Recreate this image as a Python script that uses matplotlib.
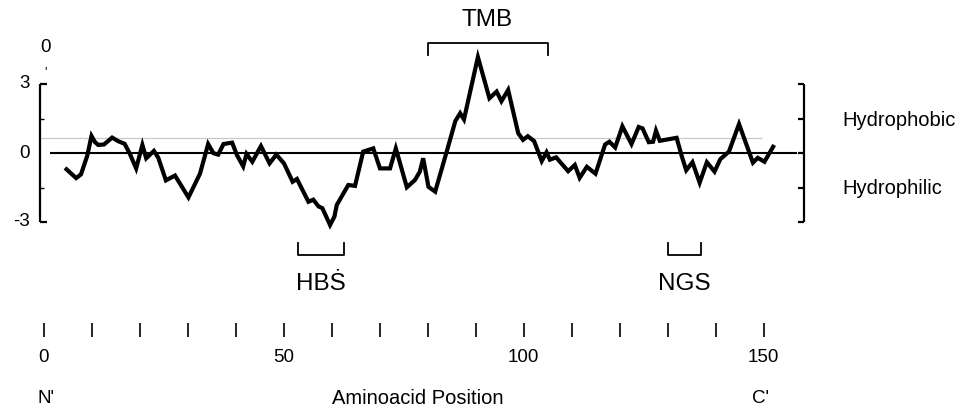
import matplotlib

matplotlib.use("Agg")
import matplotlib.pyplot as plt
import numpy as np

plt.rcParams["font.family"] = ["Liberation Sans", "DejaVu Sans"]

# Hydropathy profile (residue position, score).
POSITIONS = [
    4.8, 6.8, 7.8, 9.1, 10.0, 10.7, 11.4, 12.6, 14.3, 15.6, 16.9, 18.0, 19.3, 20.6, 21.4,
    23.0, 23.9, 25.5, 27.4, 30.2, 32.6, 34.3, 35.4, 36.4, 37.5, 39.3, 40.3, 41.6, 42.3,
    43.5, 45.3, 47.1, 48.5, 50.1, 51.9, 52.8, 55.2, 56.2, 57.3, 58.1, 59.7, 60.6, 61.1,
    63.5, 64.9, 66.6, 68.7, 70.1, 72.2, 73.4, 75.7, 77.4, 78.4, 79.1, 80.2, 81.6, 84.0,
    85.8, 86.8, 87.6, 90.5, 92.9, 94.4, 95.4, 96.8, 98.9, 99.9, 100.9, 102.2, 103.8,
    104.8, 105.5, 106.8, 109.3, 110.7, 111.7, 113.2, 115.0, 117.0, 117.9, 119.1, 120.6,
    122.5, 124.0, 124.8, 126.1, 127.0, 127.6, 128.4, 131.9, 133.0, 133.9, 135.2, 136.7,
    138.2, 139.8, 141.0, 142.8, 144.9, 147.8, 148.8, 150.2, 152.0,
]
SCORES = [
    -0.71, -1.09, -0.93, -0.13, 0.74, 0.48, 0.35, 0.37, 0.67, 0.51, 0.40, -0.04, -0.67, 0.35, -0.23,
    0.09, -0.20, -1.19, -0.98, -1.93, -0.90, 0.39, -0.01, -0.07, 0.39, 0.45, -0.09, -0.58, -0.04,
    -0.38, 0.30, -0.45, -0.07, -0.45, -1.25, -1.13, -2.12, -2.03, -2.32, -2.40, -3.13, -2.77, -2.26,
    -1.39, -1.43, 0.06, 0.20, -0.67, -0.67, 0.20, -1.49, -1.17, -0.81, -0.23, -1.47, -1.68, 0.06,
    1.39, 1.73, 1.46, 4.17, 2.38, 2.67, 2.25, 2.74, 0.86, 0.57, 0.73, 0.52, -0.35,
    0.03, -0.29, -0.19, -0.79, -0.52, -1.08, -0.60, -0.90, 0.37, 0.49, 0.24, 1.16,
    0.39, 1.13, 1.07, 0.47, 0.49, 0.97, 0.53, 0.66, -0.16, -0.75, -0.40, -1.29,
    -0.40, -0.81, -0.27, 0.06, 1.26, -0.42, -0.21, -0.38, 0.27,
]
THRESHOLD = 0.65

# Annotated regions: (label, first residue, last residue)
TOP_REGIONS = [("TMB", 80, 105)]
BOTTOM_REGIONS = [("HBṠ", 53, 62.5), ("NGS", 130, 137)]

X_TICKS = list(range(0, 151, 10))
X_TICK_LABELS = [0, 50, 100, 150]
Y_TICKS_MAJOR = [-3, 3]
Y_TICKS_MINOR = [-1.5, 1.5]
RIGHT_TICKS = [-3, -1.5, 0, 1.5, 3]

# pixel <-> data mapping of the scanned figure (963 x 412 px)
W_PX, H_PX = 963, 412
X0_PX, PX_PER_RES = 43.5, 4.8
Y0_PX, PX_PER_UNIT = 153.0, 23.0

SMALL_FONT = 13.5
REGION_FONT = 17.5


def to_data(px, py):
    return (px - X0_PX) / PX_PER_RES, (Y0_PX - py) / PX_PER_UNIT


def main() -> None:
    fig = plt.figure(figsize=(W_PX / 100, H_PX / 100), dpi=100)
    ax = fig.add_axes([0, 0, 1, 1])
    ax.set_xlim(-X0_PX / PX_PER_RES, (W_PX - X0_PX) / PX_PER_RES)
    ax.set_ylim((Y0_PX - H_PX) / PX_PER_UNIT, Y0_PX / PX_PER_UNIT)
    ax.axis("off")

    dx = 1 / PX_PER_RES  # one pixel in x data units
    dy = 1 / PX_PER_UNIT

    # reference lines
    ax.hlines(THRESHOLD, -0.7, 149.7, color="#c8c8c8", lw=0.9)
    ax.hlines(0, 1.3, 157.0, color="black", lw=1.5)

    # profile
    ax.plot(POSITIONS, SCORES, color="black", lw=3.0, solid_joinstyle="miter")

    # left scale bracket
    left_x = to_data(40, 0)[0]
    ax.vlines(left_x, -3, 3, color="black", lw=1.6)
    for y in Y_TICKS_MAJOR:
        ax.hlines(y, left_x, left_x + 6.5 * dx, color="black", lw=1.6)
    for y in Y_TICKS_MINOR:
        ax.hlines(y, left_x, left_x + 4 * dx, color="black", lw=1.0)
    for y, lab in [(3, "3"), (0, "0"), (-3, "-3")]:
        ax.text(left_x - 10 * dx, y, lab, ha="right", va="center", fontsize=SMALL_FONT)
    tx, ty = to_data(45, 48)
    ax.text(tx, ty, "0", ha="center", va="center", fontsize=SMALL_FONT)
    tx, ty = to_data(45, 72)
    ax.text(tx, ty, "'", ha="center", va="center", fontsize=9)

    # right scale bracket
    right_x = to_data(804, 0)[0]
    ax.vlines(right_x, -3, 3, color="black", lw=1.6)
    for y in RIGHT_TICKS:
        ax.hlines(y, right_x - 6 * dx, right_x, color="black", lw=1.6)
    tx, ty = to_data(842, 120)
    ax.text(tx, ty, "Hydrophobic", ha="left", va="center", fontsize=14.5)
    tx, ty = to_data(842, 188)
    ax.text(tx, ty, "Hydrophilic", ha="left", va="center", fontsize=14.5)

    # region brackets
    top_y, top_drop = to_data(0, 42.7)[1], 12 * dy
    for label, start, end in TOP_REGIONS:
        ax.plot([start, start, end, end], [top_y - top_drop, top_y, top_y, top_y - top_drop],
                color="black", lw=1.3)
        ax.text((start + end) / 2, to_data(0, 20)[1], label, ha="center", va="center",
                fontsize=REGION_FONT)
    bot_y, bot_rise = to_data(0, 255)[1], 12 * dy
    for label, start, end in BOTTOM_REGIONS:
        ax.plot([start, start, end, end], [bot_y + bot_rise, bot_y, bot_y, bot_y + bot_rise],
                color="black", lw=1.3)
        ax.text((start + end) / 2, to_data(0, 284)[1], label, ha="center", va="center",
                fontsize=REGION_FONT)

    # position axis (ticks floating below the profile)
    tick_top, tick_bot = to_data(0, 323)[1], to_data(0, 337)[1]
    ax.vlines(X_TICKS, tick_bot, tick_top, color="black", lw=1.2)
    label_y = to_data(0, 358)[1]
    for x in X_TICK_LABELS:
        ax.text(x, label_y, str(x), ha="center", va="center", fontsize=SMALL_FONT)

    bottom_y = to_data(0, 398)[1]
    ax.text(to_data(37, 0)[0], bottom_y, "N'", ha="left", va="center", fontsize=SMALL_FONT)
    ax.text(to_data(418, 0)[0], bottom_y, "Aminoacid Position", ha="center", va="center",
            fontsize=14.5)
    ax.text(to_data(760, 0)[0], bottom_y, "C'", ha="center", va="center", fontsize=SMALL_FONT)

    fig.savefig("out.png", dpi=100)
    plt.close(fig)


if __name__ == "__main__":
    main()
